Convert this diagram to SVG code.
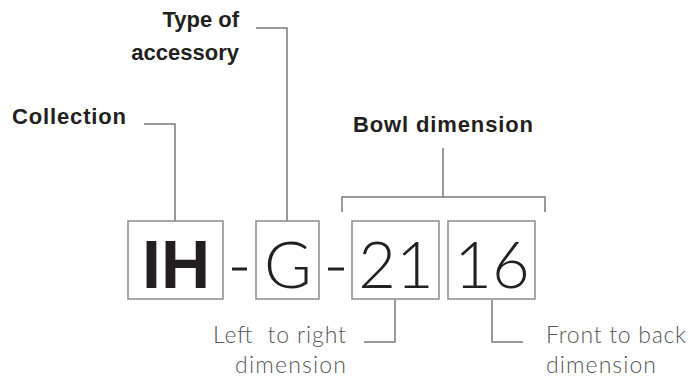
<svg xmlns="http://www.w3.org/2000/svg" width="688" height="379" viewBox="0 0 688 379">
<style>
.lbl{font-family:"Liberation Sans",Arial,sans-serif;font-weight:bold;font-size:22px;fill:#231f20}
.sub{font-family:Lato,"Open Sans","Liberation Sans",sans-serif;font-weight:300;font-size:23px;fill:#555658;white-space:pre}
.box{fill:#fff;stroke:#8a8a8a;stroke-width:1.5}
.big{font-family:Lato,"Open Sans","Liberation Sans",sans-serif;font-weight:300;font-size:65px;fill:#231f20;text-anchor:middle}
.bigb{font-family:"Liberation Sans",Arial,sans-serif;font-weight:bold;font-size:68px;fill:#231f20;text-anchor:middle}
.ln{fill:none;stroke:#7a7a7a;stroke-width:1.5}
</style>
<rect width="688" height="379" fill="#fff"/>
<g id="connectors">
<polyline class="ln" points="144,124 175,124 175,221"/>
<polyline class="ln" points="256,28 287,28 287,221"/>
<polyline class="ln" points="342,212 342,197 545,197 545,212"/>
<line class="ln" x1="443" y1="148" x2="443" y2="197"/>
<polyline class="ln" points="395,300 395,342 364,342"/>
<polyline class="ln" points="492,300 492,342 523,342"/>
</g>
<g id="label-collection"><text class="lbl" x="12" y="124" textLength="114">Collection</text></g>
<g id="label-type"><text class="lbl" x="239" y="27" text-anchor="end">Type of</text><text class="lbl" x="239" y="60" text-anchor="end">accessory</text></g>
<g id="label-bowl"><text class="lbl" x="353" y="132" textLength="180">Bowl dimension</text></g>
<g id="box-IH"><rect class="box" x="128" y="221" width="95" height="78"/><text class="bigb" x="176" y="288">IH</text></g>
<g id="dash1"><line x1="232" y1="269" x2="247" y2="269" stroke="#231f20" stroke-width="3"/></g>
<g id="box-G"><rect class="box" x="256" y="221" width="63" height="78"/><text class="big" x="288" y="288">G</text></g>
<g id="dash2"><line x1="328" y1="269" x2="344" y2="269" stroke="#231f20" stroke-width="3"/></g>
<g id="box-21"><rect class="box" x="352" y="221" width="87" height="78"/><text class="big" x="396" y="288">21</text></g>
<g id="box-16"><rect class="box" x="448" y="221" width="87" height="78"/><text class="big" x="492" y="288">16</text></g>
<g id="label-left"><text class="sub" x="346" y="343" text-anchor="end" textLength="133">Left  to right</text><text class="sub" x="346" y="373" text-anchor="end" textLength="111">dimension</text></g>
<g id="label-front"><text class="sub" x="546" y="343" textLength="140">Front to back</text><text class="sub" x="546" y="373" textLength="110">dimension</text></g>
</svg>
